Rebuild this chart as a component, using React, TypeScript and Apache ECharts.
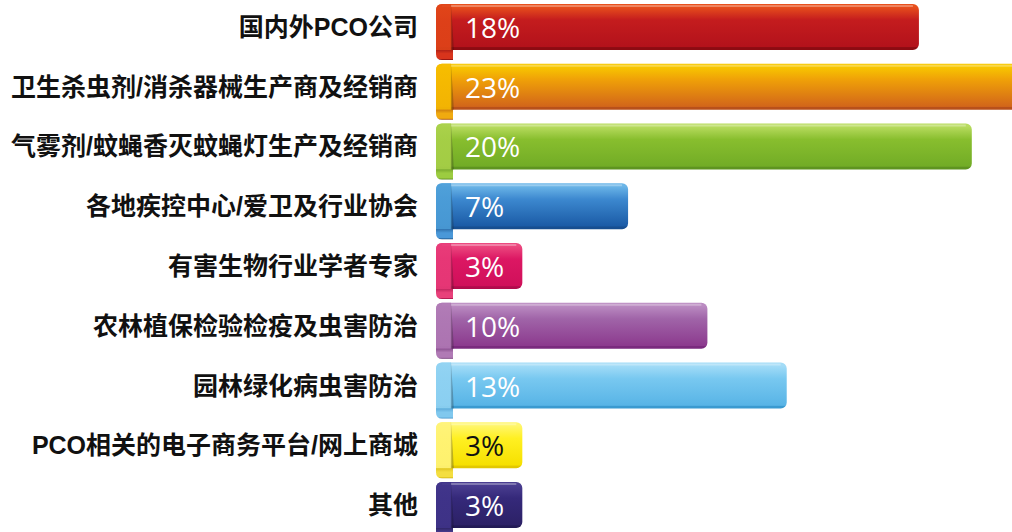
import React, { useEffect, useRef } from "react";
import * as echarts from "echarts";

const categories = [
  "国内外PCO公司",
  "卫生杀虫剂/消杀器械生产商及经销商",
  "气雾剂/蚊蝇香灭蚊蝇灯生产及经销商",
  "各地疾控中心/爱卫及行业协会",
  "有害生物行业学者专家",
  "农林植保检验检疫及虫害防治",
  "园林绿化病虫害防治",
  "PCO相关的电子商务平台/网上商城",
  "其他",
];
const values = [18, 23, 20, 7, 3, 10, 13, 3, 3];
const valueLabels = ["18%", "23%", "20%", "7%", "3%", "10%", "13%", "3%", "3%"];

type Pal = { top: string; mid: string; bottom: string; edge: string; fold: string; curlL: string; curlD: string; text: string };
const palette: Pal[] = [
  { top: "#e8501c", mid: "#c41c1e", bottom: "#b3121b", edge: "#8c0b12", fold: "#e04418", curlL: "#d8341c", curlD: "#820c10", text: "#ffffff" },
  { top: "#f8c800", mid: "#efa008", bottom: "#d2661a", edge: "#b8501a", fold: "#f6bc00", curlL: "#f0aa10", curlD: "#a85010", text: "#ffffff" },
  { top: "#b9dc60", mid: "#88be2e", bottom: "#72ac26", edge: "#5e9420", fold: "#a8d048", curlL: "#9ccc40", curlD: "#56841c", text: "#ffffff" },
  { top: "#6cb6e8", mid: "#3c88cf", bottom: "#1b5ba6", edge: "#174e90", fold: "#4c9ed8", curlL: "#4a98d8", curlD: "#174a80", text: "#ffffff" },
  { top: "#ec4a80", mid: "#dc1763", bottom: "#d0105a", edge: "#b00c4c", fold: "#e83a78", curlL: "#e8407a", curlD: "#9a0a42", text: "#ffffff" },
  { top: "#bb8cc2", mid: "#a064a8", bottom: "#8c3a8e", edge: "#7a2a7e", fold: "#b07ab5", curlL: "#b07ab5", curlD: "#662a6c", text: "#ffffff" },
  { top: "#a4dcf7", mid: "#78c8f0", bottom: "#58b4e6", edge: "#3a9ad0", fold: "#90d2f2", curlL: "#80c8ee", curlD: "#3a8cc4", text: "#ffffff" },
  { top: "#fff66e", mid: "#fff022", bottom: "#f6e000", edge: "#e2c800", fold: "#fff37a", curlL: "#f4de40", curlD: "#c8a800", text: "#111111" },
  { top: "#4a3e90", mid: "#35297a", bottom: "#2c2166", edge: "#221a55", fold: "#40348a", curlL: "#463a8c", curlD: "#1a1244", text: "#ffffff" },
];

export default function App() {
  const ref = useRef<HTMLDivElement>(null);
  useEffect(() => {
    if (!ref.current) return;
    const chart = echarts.init(ref.current, undefined, { renderer: "svg" });
    const data = values.map((v, i) => [v, i]);
    chart.setOption({
      animation: false,
      backgroundColor: "#ffffff",
      grid: { left: 443, top: -3, width: 661, height: 538, outerBoundsMode: "none", containLabel: false },
      xAxis: { type: "value", min: 0, max: 25, show: false },
      yAxis: {
        type: "category",
        data: categories,
        inverse: true,
        axisLine: { show: false },
        axisTick: { show: false },
        splitLine: { show: false },
        axisLabel: {
          interval: 0,
          margin: 25,
          fontSize: 25,
          fontWeight: "bold",
          color: "#111111",
          fontFamily: '"Liberation Sans", "Noto Sans CJK SC", sans-serif',
        },
      },
      series: [
        {
          type: "custom",
          clip: false,
          encode: { x: 0, y: 1 },
          data,
          renderItem: (params: any, api: any) => {
            const v = api.value(0);
            const cat = api.value(1);
            const start = api.coord([0, cat]);
            const end = api.coord([v, cat]);
            const p = palette[params.dataIndex];
            const h = 46;
            const yc = start[1];
            const y0 = yc - h / 2;
            const B = y0 + h;
            const L = start[0] - 7;
            const R = end[0];
            const curl = `M${L} ${B - 4} L${L} ${B + 4} Q${L} ${B + 10} ${L + 6} ${B + 10} L${L + 17} ${B + 10} L${L + 17} ${B - 4} Z`;
            const fold = `M${L} ${y0 + 6} Q${L} ${y0} ${L + 6} ${y0} L${L + 15} ${y0} L${L + 18} ${B} L${L} ${B} Z`;
            return {
              type: "group",
              children: [
                {
                  type: "path",
                  shape: { pathData: curl },
                  style: {
                    fill: new echarts.graphic.LinearGradient(0, 0, 0, 1, [
                      { offset: 0, color: p.curlD },
                      { offset: 0.55, color: p.curlL },
                      { offset: 0.9, color: p.curlL },
                      { offset: 1, color: p.curlD },
                    ]),
                  },
                },
                {
                  type: "rect",
                  shape: { x: L, y: y0, width: R - L, height: h, r: [6, 6, 6, 0] },
                  style: {
                    fill: new echarts.graphic.LinearGradient(0, 0, 0, 1, [
                      { offset: 0, color: p.top },
                      { offset: 0.06, color: p.top },
                      { offset: 0.35, color: p.mid },
                      { offset: 0.93, color: p.bottom },
                      { offset: 0.95, color: p.edge },
                      { offset: 1, color: p.edge },
                    ]),
                  },
                },
                {
                  type: "rect",
                  shape: { x: L + 6, y: y0 + 1, width: Math.max(0, R - L - 12), height: 2 },
                  style: { fill: "rgba(255,255,255,0.3)" },
                },
                {
                  type: "path",
                  shape: { pathData: fold },
                  style: {
                    fill: new echarts.graphic.LinearGradient(0, 0, 1, 0, [
                      { offset: 0, color: p.fold },
                      { offset: 0.8, color: p.fold },
                      { offset: 1, color: "rgba(0,0,0,0.1)" },
                    ]),
                    opacity: 0.9,
                  },
                },
                {
                  type: "text",
                  style: {
                    text: valueLabels[params.dataIndex],
                    x: start[0] + 22,
                    y: yc,
                    fill: p.text,
                    fontSize: 28,
                    fontFamily: '"Open Sans", sans-serif',
                    align: "left",
                    verticalAlign: "middle",
                  },
                },
              ],
            };
          },
        },
      ],
    });
    return () => chart.dispose();
  }, []);
  return (
    <div
      ref={ref}
      style={{ position: "fixed", left: 0, top: 0, width: 1012, height: 532 }}
    />
  );
}
